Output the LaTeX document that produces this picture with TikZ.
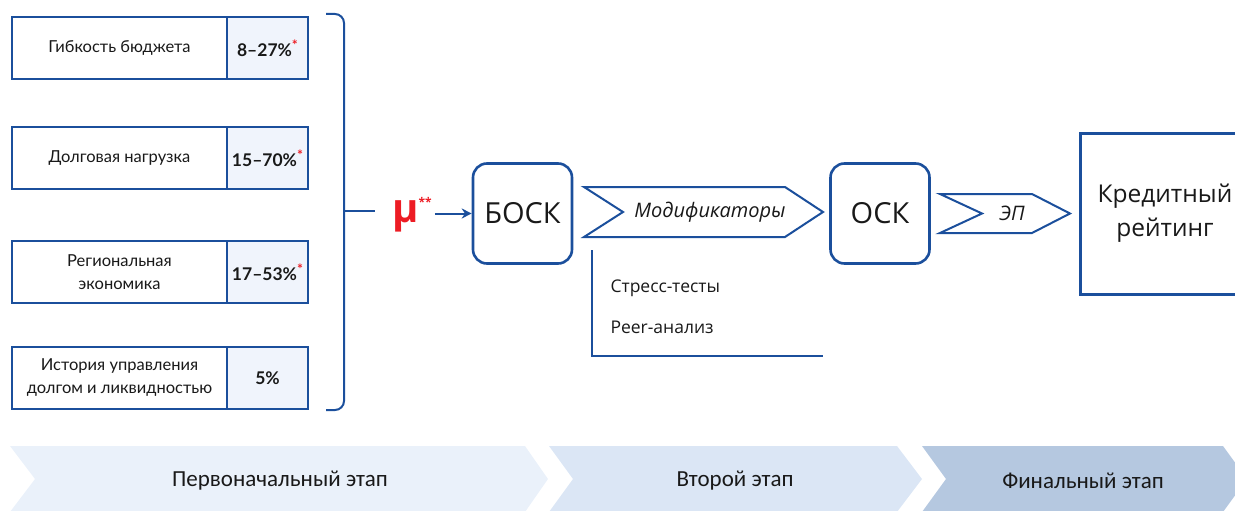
\documentclass[tikz,border=0pt]{standalone}
\usepackage{fontspec}
\setmainfont{Open Sans}
\newfontfamily\boxfont{Lato}
\newfontfamily\calfont{Carlito}
\usetikzlibrary{arrows.meta}

\definecolor{frame}{RGB}{27,79,156}
\definecolor{pctfill}{RGB}{240,244,252}
\definecolor{bandA}{RGB}{234,241,250}
\definecolor{bandB}{RGB}{219,230,245}
\definecolor{bandC}{RGB}{181,200,224}
\definecolor{accent}{RGB}{237,28,36}
\definecolor{ink}{RGB}{25,25,25}

\newcommand{\redstar}{\raisebox{0.32em}{\textcolor{accent}{\fontsize{14}{14}\selectfont *}}}

\tikzset{
  factor/.style={draw=frame, line width=2pt, fill=white, minimum width=215pt,
    minimum height=62pt, anchor=north west, inner sep=2pt, align=center,
    text=ink, font=\boxfont\fontsize{16.5}{23}\selectfont},
  weight/.style={draw=frame, line width=2pt, fill=pctfill, minimum width=81pt,
    minimum height=62pt, anchor=north west, inner sep=0pt, text=ink,
    font=\boxfont\bfseries\fontsize{17.5}{20}\selectfont},
  stagebox/.style={draw=frame, line width=2.6pt, rounded corners=14pt,
    minimum width=99pt, minimum height=100pt, text=ink,
    font=\fontsize{29}{32}\selectfont},
  chevron/.style={draw=frame, line width=2pt, fill=white, line join=miter},
  chevtext/.style={text=ink, font=\itshape\fontsize{20}{22}\selectfont},
  note/.style={text=ink, anchor=west, font=\fontsize{17.5}{20}\selectfont},
  bandtext/.style={text=ink, font=\calfont\fontsize{23}{25}\selectfont},
}

\begin{document}
\begin{tikzpicture}[x=1pt, y=-1pt]
\useasboundingbox (0,0) rectangle (1235,511);

% --- stage bands along the bottom ---
\fill[bandA] (10,446) -- (525,446) -- (548,479) -- (525,512) -- (10,512) -- (35,479) -- cycle;
\fill[bandB] (549,446) -- (897,446) -- (922,479) -- (897,512) -- (549,512) -- (573,479) -- cycle;
\fill[bandC] (922,446) -- (1223,446) -- (1247,479) -- (1223,512) -- (922,512) -- (946,479) -- cycle;
\node[bandtext] (stage1) at (280,481) {Первоначальный этап};
\node[bandtext] (stage2) at (735,481) {Второй этап};
\node[bandtext] (stage3) at (1083,481) {Финальный этап};

% --- rating factors and their weights ---
\node[factor] (f1) at (11,16) {Гибкость бюджета};
\node[weight] (w1) at (226,16) {8–27\%\redstar};
\node[factor] (f2) at (11,126) {Долговая нагрузка};
\node[weight] (w2) at (226,126) {15–70\%\redstar};
\node[factor] (f3) at (11,240) {Региональная\\экономика};
\node[weight] (w3) at (226,240) {17–53\%\redstar};
\node[factor] (f4) at (11,346) {История управления\\долгом и ликвидностью};
\node[weight] (w4) at (226,346) {5\%};

% --- brace collecting the factors ---
\draw[frame, line width=2pt, rounded corners=9pt]
  (326,14) -- (344,14) -- (344,410) -- (326,410);
\coordinate (bracetip) at (344,211);
\coordinate (braceend) at (375,211);
\draw[frame, line width=2pt] (bracetip) -- (braceend);

% --- weighted score ---
\node[anchor=base west, inner sep=0pt, text=accent] (mu) at (392,222)
  {\fontsize{40}{40}\selectfont\bfseries μ\raisebox{0.4em}{\fontsize{12}{12}\selectfont **}};

% --- assessment chain ---
\node[stagebox] (bosk) at (522.5,213.5) {БОСК};
\node[stagebox] (osk) at (880,213.5) {ОСК};
\draw[frame, line width=2pt, -{Stealth[length=10pt,width=10pt]}]
  ([xshift=3pt]mu.east |- bosk.west) -- (bosk.west);

\draw[chevron] (584,187) -- (785,187) -- (823,212) -- (785,237) -- (584,237) -- (623,212) -- cycle;
\node[chevtext] (mods) at (710,212) {Модификаторы};

\draw[chevron] (940,194) -- (1032,194) -- (1070,213.5) -- (1032,233) -- (940,233) -- (982,213.5) -- cycle;
\node[chevtext] (ep) at (1012,213.5) {ЭП};

\node[draw=frame, line width=3pt, minimum width=170pt, minimum height=161pt,
  align=center, text=ink, font=\fontsize{24.5}{34}\selectfont] (rating)
  at (1165,213.5) {Кредитный\\рейтинг};

% --- modifier details ---
\coordinate (ntop) at (592,250);
\coordinate (ncorner) at (592,356);
\coordinate (nend) at (823,356);
\draw[frame, line width=1.2pt] (ntop) -- (ncorner) -- (nend);
\node[note] (stress) at (607,288) {Стресс-тесты};
\node[note] (peer) at (607,327) {Peer-анализ};
\end{tikzpicture}
\end{document}
